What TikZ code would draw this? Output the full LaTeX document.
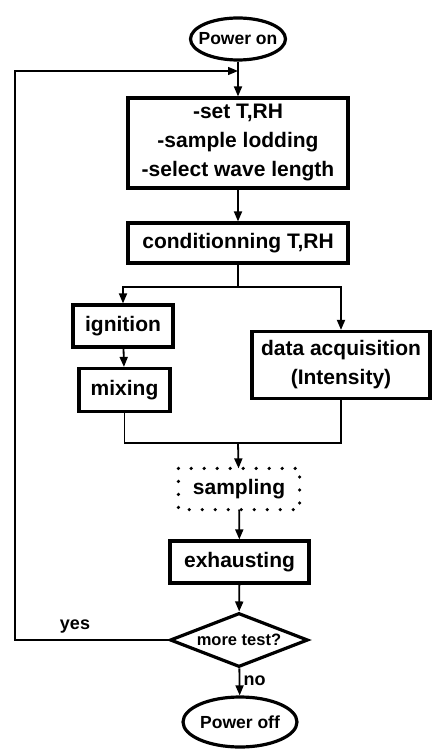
\documentclass[tikz,border=0pt]{standalone}
\usepackage{fontspec}
\setmainfont{Liberation Sans}
\usepackage{tikz}
\usetikzlibrary{shapes.geometric,arrows.meta}

\begin{document}
\begin{tikzpicture}[x=1pt, y=-1pt,
    box/.style={draw, line width=3.2pt, inner sep=0pt, align=center,
                font=\fontsize{21}{29}\selectfont\bfseries},
    term/.style={draw, ellipse, line width=3.2pt, inner sep=0pt,
                 font=\fontsize{17.5}{20}\selectfont\bfseries},
    flow/.style={line width=1.8pt, -{Triangle[length=10pt, width=8pt]}},
    link/.style={line width=1.8pt},
    loop/.style={line width=1.4pt},
    lbl/.style={font=\fontsize{18}{20}\selectfont\bfseries}]
    \useasboundingbox (0,0) rectangle (433,749);

    \node[term, inner xsep=-7pt, minimum width=95, minimum height=42] (on) at (238,39) {Power on};
    \node[box, minimum width=220, minimum height=90] (set) at (238,143)
         {-set T,RH\\-sample lodding\\-select wave length};
    \node[box, minimum width=220, minimum height=40] (cond) at (238,243)
         {conditionning T,RH};
    \node[box, minimum width=100, minimum height=42] (ign) at (123,326) {ignition};
    \node[box, minimum width=91, minimum height=43] (mix) at (124.5,390) {mixing};
    \node[box, minimum width=178, minimum height=67] (daq) at (341,365)
         {data acquisition\\(Intensity)};
    \node[box, draw=none, minimum width=118, minimum height=38] (samp) at (239,489) {sampling};
    \draw[line width=3.6pt, line cap=round, dash pattern=on 0pt off 13pt]
         (samp.north west) rectangle (samp.south east);
    \node[box, minimum width=139, minimum height=42] (exh) at (239.5,562) {exhausting};
    \node[box, diamond, aspect=2.55, minimum width=138, minimum height=54,
          font=\fontsize{16.5}{19}\selectfont\bfseries] (test) at (239,640) {more test?};
    \node[term, minimum width=114, minimum height=50] (off) at (240,722) {Power off};

    \coordinate (entry) at (238,71);
    \coordinate (split) at (238,287);
    \coordinate (merge) at (238,443);
    \coordinate (back) at (15,640);

    \draw[flow] (on) -- (set);
    \draw[flow] (set) -- (cond);
    \draw[link] (cond) -- (split);
    \draw[flow] (split) -| (ign);
    \draw[flow] (split) -| (daq);
    \draw[flow] (ign) -- (mix);
    \draw[link] (mix) |- (merge);
    \draw[link] (daq) |- (merge);
    \draw[flow] (merge) -- (samp);
    \draw[flow] (samp) -- (exh);
    \draw[flow] (exh) -- (test);
    \draw[flow] (test) -- node[right, lbl, pos=0.45] (no) {no} (off);
    \draw[loop, -{Triangle[length=10pt, width=8pt]}] (test.west) -- (back) |- (entry);
    \node[lbl] (yes) at (75,627) {yes};
\end{tikzpicture}
\end{document}
